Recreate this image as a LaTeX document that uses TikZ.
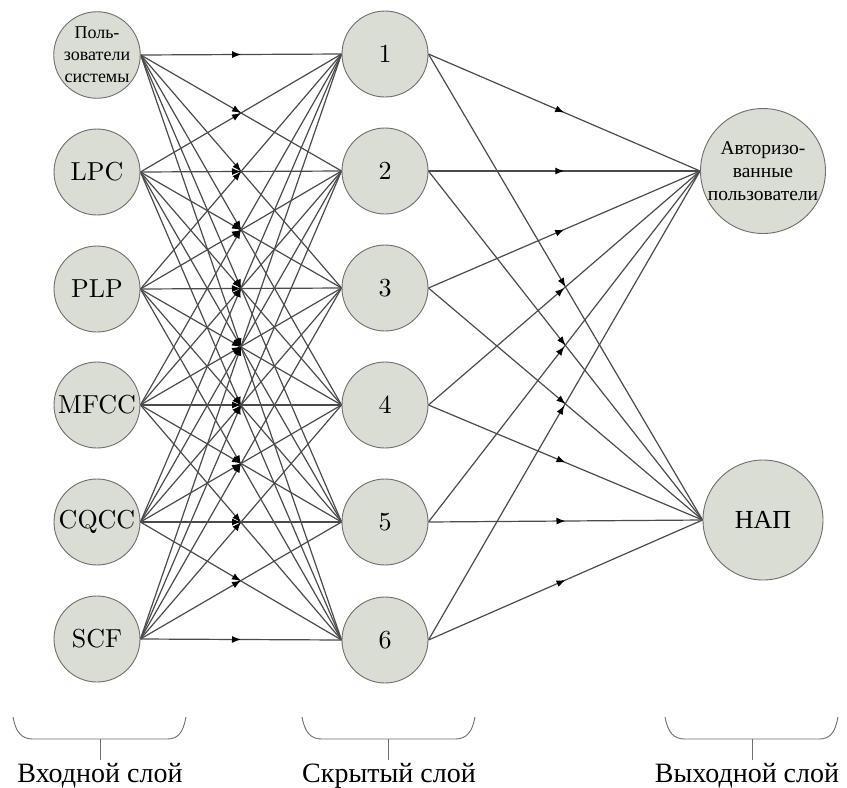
\documentclass[tikz,border=0pt]{standalone}
\usepackage{fontspec}
\setmainfont{lmroman10-regular.otf}
\newfontfamily\cyr{Liberation Serif}
\usetikzlibrary{decorations.markings,arrows.meta,backgrounds}
\definecolor{nodefill}{RGB}{218,221,212}
\definecolor{nodeline}{RGB}{110,110,110}
\definecolor{edgecol}{RGB}{75,75,75}
\begin{document}
\begin{tikzpicture}[x=1pt,y=-1pt,
  neuron/.style={circle, draw=nodeline, line width=0.9pt, fill=nodefill, inner sep=0pt,
    minimum size=86pt, font=\fontsize{26}{30}\selectfont, align=center},
  smalltext/.style={font=\cyr\fontsize{18}{22}\selectfont},
  outneuron/.style={neuron, minimum size=120pt},
  conn/.style={draw=edgecol, line width=1.2pt, postaction={decorate},
    decoration={markings, mark=at position 0.5 with {\arrow[black]{Latex[length=9pt,width=7pt]}}}},
  bracel/.style={draw=nodeline, line width=0.9pt},
  lbl/.style={font=\cyr\fontsize{28}{32}\selectfont, inner sep=0pt}]
\useasboundingbox (0,0) rectangle (847,788);

% input layer
\node[neuron, smalltext] (i1) at (97,55) {Поль-\\зователи\\системы};
\node[neuron] (i2) at (97,172) {LPC};
\node[neuron] (i3) at (97,289) {PLP};
\node[neuron] (i4) at (97,405) {MFCC};
\node[neuron] (i5) at (97,522) {CQCC};
\node[neuron] (i6) at (97,639) {SCF};

% hidden layer
\node[neuron] (h1) at (385,54) {1};
\node[neuron] (h2) at (385,171) {2};
\node[neuron] (h3) at (385,288) {3};
\node[neuron] (h4) at (385,405) {4};
\node[neuron] (h5) at (385,522) {5};
\node[neuron] (h6) at (385,640) {6};

% output layer
\node[outneuron, font=\cyr\fontsize{19.5}{23}\selectfont] (o1) at (763,171) {Авторизо-\\ванные\\пользователи};
\node[outneuron, font=\cyr\fontsize{26}{30}\selectfont] (o2) at (763,520) {НАП};

% connections
\begin{scope}[on background layer]
\foreach \i in {1,...,6}
  \foreach \j in {1,...,6}
    \draw[conn] (i\i.east) -- (h\j.west);
\foreach \j in {1,...,6}
  \foreach \k in {1,2}
    \draw[conn] (h\j.east) -- (o\k.west);
\end{scope}

% braces
\draw[bracel] (13,717) .. controls (16,733) and (22,739) .. (33,739) -- (167,739)
  .. controls (178,739) and (183,733) .. (186,717);
\coordinate (b1) at (100,739);
\coordinate (b1e) at (100,760);
\draw[bracel] (b1) -- (b1e);

\draw[bracel] (302,717) .. controls (305,733) and (311,739) .. (322,739) -- (455,739)
  .. controls (466,739) and (472,733) .. (475,717);
\coordinate (b2) at (388,739);
\coordinate (b2e) at (388,760);
\draw[bracel] (b2) -- (b2e);

\draw[bracel] (665,717) .. controls (668,733) and (674,739) .. (685,739) -- (819,739)
  .. controls (830,739) and (835,733) .. (838,717);
\coordinate (b3) at (752,739);
\coordinate (b3e) at (752,760);
\draw[bracel] (b3) -- (b3e);

% labels
\node[lbl, anchor=base] (l1) at (100,782) {Входной слой};
\node[lbl, anchor=base] (l2) at (389,782) {Скрытый слой};
\node[lbl, anchor=base] (l3) at (747,782) {Выходной слой};
\end{tikzpicture}
\end{document}
